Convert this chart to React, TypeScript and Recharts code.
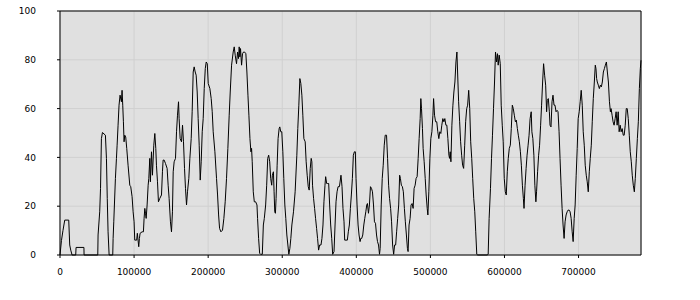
import React from "react";
import {
  CartesianGrid,
  Line,
  LineChart,
  ReferenceLine,
  XAxis,
  YAxis,
} from "recharts";

// x positions are in thousands
const segA = [
  [0, 0], [2, 6], [4, 10], [6.4, 14.3], [11.8, 14.3], [13.1, 4.1], [14.5, 2], [16.3, 0],
  [21.2, 0], [21.7, 3.1], [32.3, 3.1], [32.5, 0], [51, 0], [51.4, 8.2], [53.6, 17.7],
  [54.7, 27.3], [55.9, 47.7], [57.3, 50.2], [61.3, 49.1], [62.7, 39.6], [63.8, 23.2],
  [64.9, 9.5], [66.3, 0], [71.2, 0], [71.7, 6.8], [72.6, 13.6], [74.8, 31.4], [76.2, 39.6],
  [77.1, 45], [78.4, 53.2], [79.7, 61.4], [81.1, 65.5], [82.9, 62.8], [83.8, 67.5],
  [84.7, 61.4], [85.6, 54.6], [86.5, 46.4], [87.4, 49.1], [88.7, 48.4], [90.1, 43.7],
  [91.9, 36.8], [94.2, 28.6], [95.5, 28], [97.3, 23.9], [98.7, 17.7], [100, 13.6],
  [100.9, 6.1], [103.5, 6.1], [104.4, 8.9], [106.3, 3.4], [107.2, 6.8], [108.1, 8.9],
  [110.8, 9.5], [112.6, 9.5], [113.5, 15], [114.5, 19.1], [115.4, 17.1], [116.3, 15],
  [117.6, 20.5], [119, 28.6], [119.9, 31.4],
];

const segB = [
  [121.2, 39.6], [122, 30], [123.5, 42.3], [124.8, 32.7], [126.6, 45], [128, 49.8],
  [129.3, 43.7], [130.2, 36.8], [131.6, 30], [132.9, 21.8], [134.7, 23.2], [137, 24.6],
  [138.3, 34.1], [139.2, 38.9], [140.6, 38.9], [142.4, 37.5], [144.6, 35.5], [146, 28.6],
  [147.3, 23.2], [149.1, 13.6], [150.5, 9.5], [151.8, 17.7], [152.8, 34.1], [154.1, 38.2],
  [155.9, 39.6], [157.3, 50.5], [158.6, 57.3], [160, 62.8], [160.8, 55.9], [162.2, 47.7],
  [164, 46.4], [165.4, 53.2], [166.7, 46.4], [168.1, 35.5], [169.4, 27.3], [170.8, 20.5],
  [172.1, 25.9], [173.9, 31.4], [175.3, 39.6], [177.1, 47.7], [178.4, 58.7], [179.8, 75],
  [181.1, 77.1], [182.5, 75], [183.8, 73.7], [185.2, 66.8], [186.5, 55.9], [187.9, 45],
  [189.3, 30.7], [190.6, 38.2], [192, 50.5], [193.3, 55.9], [194.7, 68.2], [196.1, 76.4],
  [197.4, 79.1], [198.8, 78.4], [200.1, 70.3], [202.3, 68.2], [204.1, 64.1], [205.5, 58.7],
  [206.8, 50.5], [209.1, 42.3], [211.3, 31.4], [212.7, 24.6], [214.1, 16.4], [215.4, 10.9],
  [217.2, 9.5], [219.4, 10.2], [221.2, 15], [223, 21.8], [224.8, 31.4], [226.6, 43.7],
  [228.4, 57.3], [229.8, 66.8], [231.6, 77.8], [233.8, 83.2], [235.2, 85.3], [236.5, 81.9],
  [238.3, 78.4], [239.7, 83.2], [241, 80.5], [241.9, 85.3], [242.8, 81.2], [243.7, 84.6],
  [245.1, 77.8], [246.4, 82.5], [247.8, 83.2], [249.1, 83.2], [250.9, 82.5],
];

const segC = [
  [252.3, 75], [253.7, 65.5], [255, 57.3], [256.4, 47.7], [257.7, 42.3], [258.6, 43.7],
  [259.5, 38.2], [260.9, 25.9], [262.3, 21.8], [264.1, 21.8], [265.9, 20.5], [266.7, 15],
  [268.1, 6.8], [269.5, 0.7], [270.8, 0.3], [273.1, 0.3], [274.5, 12.3], [275.8, 15],
  [277.6, 20.5], [279, 28.6], [280.4, 39.6], [281.7, 40.9], [283.1, 38.2], [284.4, 31.4],
  [285.8, 28.6], [286.7, 32.7], [288.1, 34.1], [289, 25.9], [289.9, 17.7], [290.8, 17.1],
  [291.7, 23.2], [293.1, 36.8], [294.4, 47.7], [295.8, 51.8], [296.7, 52.5], [298, 50.5],
  [299.4, 50.5], [300.8, 42.3], [302.1, 31.4], [303.5, 20.5], [304.8, 15], [306.2, 8.2],
  [307.6, 4.1], [308.9, 0.3], [310.3, 2.7], [311.6, 6.8], [313, 12.3], [315.2, 17.7],
  [317.4, 25.9], [319.7, 40.9], [321, 51.8], [322.4, 61.4], [323.8, 72.3], [325.1, 70.3],
  [326.5, 65.5], [327.8, 57.3], [329.2, 47.7], [331, 46.4], [332.3, 38.2], [333.7, 32.7],
  [335.1, 28], [336.4, 26.6], [337.8, 35.5], [339.1, 39.6], [340, 38.2], [340.9, 28.6],
  [342.3, 23.2], [343.7, 19.1], [345, 15], [346.4, 10.9], [347.7, 6.8], [349.1, 2],
  [350.5, 4.1], [352.3, 4.1], [353.6, 6.8], [355, 12.3], [356.3, 21.8], [357.7, 28.6],
  [358.6, 32.1], [360, 29.3], [361.3, 29.3], [362.7, 29.3], [364, 20.5], [365.4, 12.3],
  [366.8, 6.8], [368.1, 0.3], [369.9, 1.4], [371.3, 12.3], [372.6, 21.8], [374, 25.9],
  [375.4, 28], [377.2, 28],
];

const segD = [
  [379.3, 32.7], [380.7, 28], [382, 19.1], [383.4, 13.6], [384.3, 6.1], [386.1, 6.1],
  [387.9, 6.1], [389.2, 9.5], [390.6, 12.3], [392, 19.1], [393.3, 24.6], [394.7, 31.4],
  [396, 40.9], [397.4, 42.3], [398.7, 42.3], [399.6, 31.4], [401, 20.5], [402.4, 12.3],
  [403.7, 8.2], [405.1, 5.5], [406, 6.8], [407.3, 6.8], [408.7, 8.2], [410.1, 12.3],
  [411.4, 15], [412.8, 17.7], [414.1, 20.5], [415, 21.1], [416.4, 17.1], [417.7, 20.5],
  [419.1, 28], [420.5, 27.3], [421.8, 25.9], [423.2, 20.5], [424.5, 13.6], [425.9, 13],
  [427.3, 8.2], [428.6, 5.5], [430, 4.1], [431.3, 0.3], [432.2, 2.7], [433.6, 20.5],
  [435, 31.4], [436.3, 36.8], [437.7, 45], [439, 49.1], [440.8, 49.1], [442.2, 39.6],
  [443.6, 28.6], [444.9, 23.2], [446.3, 19.1], [447.6, 13.6], [449, 4.1], [450.4, 0.3],
  [451.7, 4.1], [453.1, 4.1], [454.4, 9.5], [455.8, 15], [457.2, 20.5], [458.5, 32.7],
  [459.5, 31.4], [460.8, 28.6], [462.2, 28], [463.5, 25.9], [464.9, 19.1], [466.2, 13.6],
  [467.6, 8.2], [469, 2.7], [469.9, 1.4], [471.2, 12.3], [472.6, 15], [473.9, 20.5],
  [475.3, 21.1], [476.7, 19.1], [478, 27.3], [479.4, 28.6], [480.7, 31.4], [482.1, 32.1],
  [483.5, 39.6], [484.8, 47.7], [486.2, 55.9], [487.1, 64.1], [488, 60], [489.3, 51.8],
  [490.2, 43.7], [491.6, 38.2], [493, 31.4], [494.3, 24.6], [495.7, 19.1], [496.6, 16.4],
  [497.9, 25.9], [499.3, 39.6], [500.6, 47.7], [502, 50.5], [503.4, 57.3], [504.3, 64.1],
  [505.6, 57.3], [507, 54.6],
];

const segE = [
  [508.6, 54.6], [510, 50.5], [511.4, 47.7], [512.7, 50.5], [514.1, 49.8], [515.4, 53.2],
  [516.8, 55.9], [518.2, 54.6], [519.5, 55.9], [520.9, 53.2], [522.2, 53.2], [523.6, 47.7],
  [525, 40.9], [525.9, 39.6], [526.8, 42.3], [527.7, 38.2], [529, 53.2], [530.4, 61.4],
  [531.7, 66.8], [533.1, 70.9], [534.5, 79.1], [535.8, 83.2], [536.7, 75], [538.1, 62.8],
  [539.5, 54.6], [540.8, 46.4], [542.2, 40.9], [543.5, 36.8], [544.9, 35.5], [546.3, 45],
  [547.6, 54.6], [549, 60], [550.3, 61.4], [551.7, 67.5], [553.1, 60], [554.4, 46.4],
  [555.8, 39.6], [557.1, 31.4], [558.5, 23.2], [559.9, 17.7], [561.2, 9.5], [562.6, 0.3],
  [563.9, 0], [576.6, 0], [578, 0.3], [579.3, 15], [581.1, 27.3], [582.5, 39.6],
  [583.8, 49.1], [585.2, 60], [586.6, 70.9], [587.9, 83.2], [589.3, 79.1], [590.6, 82.5],
  [591.5, 77.8], [592.9, 81.9], [594.3, 78.4], [595.6, 61.4], [597, 53.2], [598.3, 46.4],
  [599.7, 31.4], [601.1, 25.9], [602.4, 24.6], [603.8, 34.1], [605.1, 39.6], [606.5, 43.7],
  [607.9, 45], [609.2, 51.8], [610.6, 61.4], [611.9, 60], [613.3, 57.3], [614.7, 54.6],
  [616, 55.3], [617.4, 51.8], [618.7, 49.1], [620.1, 46.4], [621.5, 42.3], [622.8, 36.8],
  [624.2, 28.6], [625.5, 23.2], [626.4, 19.1], [627.8, 28.6], [629.2, 35.5], [630.5, 40.9],
  [631.9, 45], [633.2, 49.1], [634.6, 55.9],
];

const segF = [
  [636.1, 58.7], [637, 50.5], [638.3, 47.7], [639.7, 40.9], [641, 28.6], [642.4, 21.8],
  [643.3, 25.9], [644.7, 34.1], [646.1, 40.9], [647.4, 45], [648.8, 53.2], [650.1, 61.4],
  [651.5, 70.9], [652.8, 78.4], [654.2, 73.7], [655.6, 69.6], [656.9, 58.7], [657.8, 63.4],
  [659.2, 64.1], [660.6, 58.7], [661.5, 53.2], [662.8, 52.5], [664.2, 62.8], [665.5, 65.5],
  [666.9, 61.4], [668.2, 61.4], [669.6, 58.7], [671, 59.3], [672.3, 58.7], [673.7, 50.5],
  [675, 39.6], [676.4, 28.6], [677.8, 19.1], [679.1, 12.3], [680.5, 6.8], [681.8, 13.6],
  [683.2, 16.4], [684.6, 17.7], [685.9, 18.4], [687.3, 18.4], [688.6, 17.7], [690, 15],
  [691.4, 9.5], [692.7, 5.5], [694.1, 15], [695.4, 20.5], [696.8, 32.7], [698.2, 43.7],
  [699.5, 55.9], [700.9, 58.7], [702.2, 62.8], [703.6, 67.5], [705, 61.4], [706.3, 50.5],
  [707.7, 45], [709, 36.8], [710.4, 32.7], [711.7, 30], [713.1, 25.9], [714.5, 34.1],
  [715.8, 39.6], [717.2, 45], [718.5, 54.6], [719.9, 64.1], [721.3, 70.9], [722.6, 77.8],
  [723.5, 76.4], [724.4, 72.3], [725.3, 70.9], [726.7, 69.6], [728.1, 68.2], [729.4, 69.6],
  [730.8, 68.9], [732.1, 70.9], [733.5, 75], [734.9, 76.4], [736.2, 77.8], [737.6, 79.1],
  [738.9, 75], [740.3, 70.9], [741.7, 62.8], [743, 58.7], [743.9, 60], [745.3, 57.3],
  [746.6, 54.6], [748, 53.2], [749.4, 55.9], [750.7, 58.7], [752.1, 53.2], [753.5, 58.7],
  [754.8, 50.5], [756.2, 53.2], [757.5, 50.5], [758.9, 51.8], [760.3, 49.1], [761.6, 49.1],
  [763, 53.2], [764.4, 60], [765.7, 60], [767.1, 55.9], [768.5, 49.1], [769.8, 42.3],
  [771.2, 38.2], [772.5, 32.7], [773.9, 28.6], [775.3, 25.9], [776.6, 31.4], [778, 39.6],
  [779.4, 47.7], [780.7, 54.6], [782.1, 68.2], [783.4, 76.4], [784.3, 79.8],
];

const xTicks = [0, 100000, 200000, 300000, 400000, 500000, 600000, 700000];
const yTicks = [0, 20, 40, 60, 80, 100];

const data = [...segA, ...segB, ...segC, ...segD, ...segE, ...segF].map(([x, v]) => ({
  x: Math.round(x * 1000),
  v,
}));

const tickStyle = { fontFamily: "DejaVu Sans", fontSize: 9, fill: "#000" };

export default function App() {
  return (
    <div style={{ position: "absolute", left: 0, top: 0, width: 700, height: 300, background: "#fff" }}>
      <LineChart width={700} height={300} data={data} margin={{ top: 11, right: 0, bottom: 0, left: 0 }}>
        <CartesianGrid fill="#e0e0e0" stroke="#d0d0d0" strokeWidth={1} />
        <XAxis
          dataKey="x"
          type="number"
          domain={[0, "dataMax"]}
          ticks={xTicks}
          height={45}
          tick={tickStyle}
          tickSize={3}
          tickMargin={11}
          stroke="#000"
          interval={0}
        />
        <YAxis
          domain={[0, 100]}
          ticks={yTicks}
          width={60}
          tick={tickStyle}
          tickSize={3}
          tickMargin={21}
          stroke="#000"
          interval={0}
        />
        <YAxis
          yAxisId="r"
          orientation="right"
          domain={[0, 100]}
          ticks={yTicks}
          width={59}
          tick={{ ...tickStyle, textAnchor: "start" }}
          tickSize={3}
          tickMargin={18}
          stroke="#000"
          interval={0}
        />
        <ReferenceLine y={100} stroke="#000" />
        <Line
          type="linear"
          dataKey="v"
          stroke="#000"
          strokeWidth={1}
          dot={false}
          isAnimationActive={false}
        />
      </LineChart>
    </div>
  );
}
